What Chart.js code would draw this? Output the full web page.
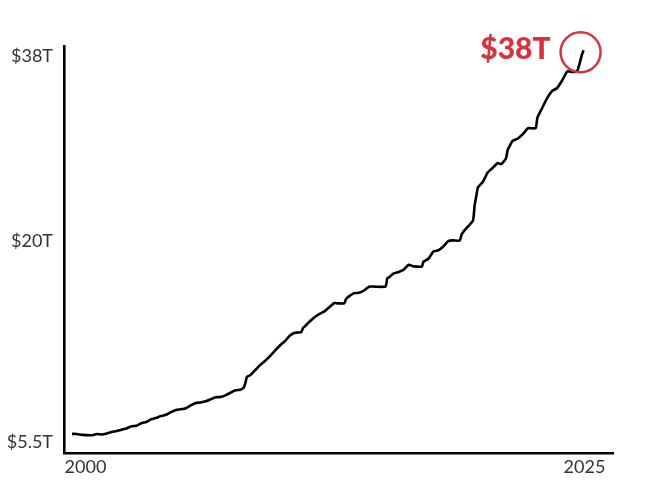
<!DOCTYPE html>
<html>
<head>
<meta charset="utf-8">
<script src="https://cdn.jsdelivr.net/npm/chart.js@4"></script>
<style>
  html, body { margin: 0; padding: 0; background: #fff; }
  #wrap { width: 650px; height: 484px; }
</style>
</head>
<body>
<div id="wrap"><canvas id="c" width="650" height="484"></canvas></div>
<script>
// Total US public debt outstanding (trillions of dollars), end of month
const periods = [
  '1999-12','2000-03','2000-06','2000-09','2000-12',
  '2001-03','2001-06','2001-09','2001-12',
  '2002-03','2002-06','2002-09','2002-12',
  '2003-03','2003-06','2003-09','2003-12',
  '2004-03','2004-06','2004-09','2004-12',
  '2005-03','2005-06','2005-09','2005-12',
  '2006-03','2006-06','2006-09','2006-12',
  '2007-03','2007-06','2007-09','2007-12',
  '2008-03','2008-06','2008-08','2008-09','2008-10','2008-12',
  '2009-03','2009-06','2009-09','2009-12',
  '2010-03','2010-06','2010-09','2010-12',
  '2011-03','2011-05','2011-07','2011-08','2011-09','2011-12',
  '2012-03','2012-06','2012-09','2012-12',
  '2013-03','2013-05','2013-09','2013-10','2013-12',
  '2014-03','2014-06','2014-09','2014-12',
  '2015-03','2015-10','2015-11','2015-12',
  '2016-03','2016-06','2016-09','2016-12',
  '2017-03','2017-08','2017-09','2017-12',
  '2018-03','2018-06','2018-09','2018-12',
  '2019-03','2019-07','2019-08','2019-09','2019-12',
  '2020-03','2020-04','2020-05','2020-06','2020-09','2020-12',
  '2021-03','2021-06','2021-08','2021-11','2021-12',
  '2022-03','2022-06','2022-09','2022-12',
  '2023-01','2023-05','2023-06','2023-09','2023-12',
  '2024-03','2024-06','2024-09','2024-12',
  '2025-01','2025-06','2025-09','2025-10'
];
const debtTrillions = [
  5.78, 5.77, 5.69, 5.67, 5.66,
  5.77, 5.73, 5.81, 5.94,
  6.01, 6.13, 6.23, 6.41,
  6.46, 6.67, 6.78, 7.00,
  7.13, 7.27, 7.38, 7.60,
  7.78, 7.84, 7.93, 8.17,
  8.37, 8.42, 8.51, 8.68,
  8.85, 8.87, 9.01, 9.23,
  9.44, 9.49, 9.65, 10.02, 10.57, 10.70,
  11.13, 11.55, 11.91, 12.31,
  12.77, 13.20, 13.56, 14.03,
  14.27, 14.29, 14.34, 14.68, 14.79, 15.22,
  15.58, 15.86, 16.07, 16.43,
  16.77, 16.74, 16.74, 17.08, 17.35,
  17.60, 17.63, 17.82, 18.14,
  18.15, 18.15, 18.83, 18.92,
  19.26, 19.38, 19.57, 19.98,
  19.85, 19.84, 20.24, 20.49,
  21.09, 21.20, 21.52, 21.97,
  22.03, 22.02, 22.49, 22.72, 23.20,
  23.69, 24.97, 25.75, 26.48, 26.95, 27.75,
  28.13, 28.53, 28.43, 28.91, 29.62,
  30.40, 30.57, 30.93, 31.42,
  31.46, 31.46, 32.33, 33.17, 34.00,
  34.59, 34.83, 35.46, 36.22,
  36.22, 36.21, 37.64, 38.00
];
// Axis tick labels (placed where the reference shows them)
const yTickValues = [5.1, 22.0, 37.5];
const yTickLabels = ['$5.5T', '$20T', '$38T'];
const xTickValues = [2000.68, 2025.88];
const xTickLabels = ['2000', '2025'];

const toYear = p => { const [y, m] = p.split('-').map(Number); return y + m / 12; };
const points = periods.map((p, i) => ({ x: toYear(p), y: debtTrillions[i] }));
const lastValue = debtTrillions[debtTrillions.length - 1];
const calloutText = '$' + Math.round(lastValue) + 'T';

const RED = '#d8323f';
const tickFont = { family: 'Lato, "Open Sans", sans-serif', size: 18, weight: '400' };

const callout = {
  id: 'callout',
  afterDatasetsDraw(chart) {
    const meta = chart.getDatasetMeta(0);
    const pt = meta.data[meta.data.length - 1];
    const ctx = chart.ctx;
    ctx.save();
    ctx.beginPath();
    ctx.arc(pt.x - 3, pt.y + 2, 20, 0, Math.PI * 2);
    ctx.strokeStyle = RED;
    ctx.lineWidth = 2.5;
    ctx.stroke();
    ctx.fillStyle = RED;
    ctx.font = '900 30px Lato, "Open Sans", sans-serif';
    ctx.textAlign = 'right';
    ctx.textBaseline = 'middle';
    ctx.fillText(calloutText, pt.x - 33, pt.y - 1);
    ctx.restore();
  }
};

new Chart(document.getElementById('c'), {
  type: 'line',
  data: {
    datasets: [{
      data: points,
      borderColor: '#000',
      borderWidth: 2.6,
      pointRadius: 0,
      tension: 0.15,
      fill: false
    }]
  },
  options: {
    responsive: false,
    animation: false,
    devicePixelRatio: 1,
    layout: { padding: { top: 46, right: 37, left: 0, bottom: 0 } },
    plugins: { legend: { display: false }, tooltip: { enabled: false } },
    scales: {
      x: {
        type: 'linear',
        min: 1999.596,
        max: 2027.32,
        grid: { display: false, drawTicks: false },
        border: { display: true, color: '#000', width: 2.6 },
        afterBuildTicks: s => { s.ticks = xTickValues.map(v => ({ value: v })); },
        afterFit: s => { s.height = 31; },
        ticks: {
          autoSkip: false,
          maxRotation: 0,
          padding: 3,
          color: '#333',
          font: tickFont,
          callback: (v, i) => xTickLabels[i]
        }
      },
      y: {
        type: 'linear',
        min: 4.17,
        max: 38.36,
        grid: { display: false, drawTicks: false },
        border: { display: true, color: '#000', width: 2.6 },
        afterBuildTicks: s => { s.ticks = yTickValues.map(v => ({ value: v })); },
        afterFit: s => { s.width = 64; },
        ticks: {
          autoSkip: false,
          padding: 11,
          color: '#333',
          font: tickFont,
          callback: (v, i) => yTickLabels[i]
        }
      }
    }
  },
  plugins: [callout]
});
</script>
</body>
</html>
